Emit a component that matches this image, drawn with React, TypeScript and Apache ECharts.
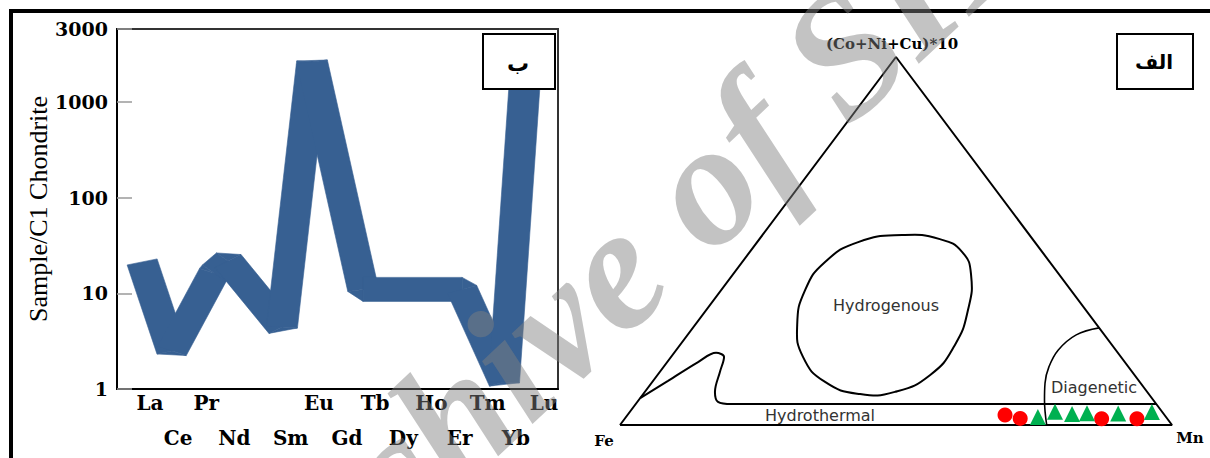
import React, { useEffect, useRef } from 'react';
import * as echarts from 'echarts';

// ---------- Left panel: chondrite-normalised REE pattern ----------
const reeLabels = ['La', 'Ce', 'Pr', 'Nd', '', 'Sm', 'Eu', 'Gd', 'Tb', 'Dy', 'Ho', 'Er', 'Tm', 'Yb', 'Lu'];
const yTickLabels = ['1', '10', '100', '1000', '3000'];
// band vertices: position along the REE axis (element index units) and Sample/C1 value
const bandElements = ['La', 'Ce', 'Pr', 'Nd', 'Sm', 'Eu', 'Gd', 'Er', 'Tm', 'Lu'];
const bandPos = [-0.28, 0.78, 2.27, 2.77, 4.69, 5.76, 7.57, 11.09, 12.58, 13.36];
const bandValue = [21.3, 2.5, 16.3, 21.8, 4.45, 2618, 11, 11, 1.18, 2500];

// ---------- Right panel: ternary Fe - Mn - (Co+Ni+Cu)*10 ----------
// compositions in % : [Fe, Mn, (Co+Ni+Cu)*10]
const redSamples = [
  [28.9, 68.4, 2.7], [26.6, 71.6, 1.8], [11.9, 86.4, 1.7], [5.5, 92.8, 1.7],
];
const greenSamples = [
  [23.2, 74.6, 2.2], [19.4, 77.0, 3.6], [16.6, 80.4, 3.0], [13.8, 83.0, 3.2], [8.2, 88.7, 3.1], [1.9, 94.6, 3.5],
];
const triangleOutline = [[100, 0, 0], [0, 100, 0], [0, 0, 100], [100, 0, 0]];
const hydrogenousField = [
  [23.1, 25.3, 51.6], [16.8, 32.7, 50.5], [14.5, 38.5, 47.0], [16.0, 43.2, 40.8], [21.3, 47.4, 31.3],
  [28.5, 49.8, 21.7], [37.0, 49.4, 13.6], [45.7, 45.3, 9.0], [52.3, 39.3, 8.4], [57.0, 31.3, 11.7],
  [57.6, 23.9, 18.5], [54.3, 18.5, 27.2], [48.1, 15.2, 36.7], [40.7, 15.0, 44.3], [32.0, 18.3, 49.7],
];
const hydrothermalField = [
  [92.7, 0, 7.3], [85.3, 2.7, 12.0], [77.3, 5.6, 17.1], [72.8, 7.6, 19.6], [71.9, 9.6, 18.5],
  [74.7, 10.9, 14.4], [78.3, 12.7, 9.0], [79.1, 14.6, 6.3], [76.9, 17.4, 5.7], [0, 94.3, 5.7],
];
const diageneticField = [
  [0, 73.6, 26.4], [5.1, 70.4, 24.5], [10.4, 69.2, 20.4], [14.4, 69.8, 15.8], [17.3, 71.3, 11.4],
  [19.7, 73.5, 6.8], [22.7, 77.3, 0],
];

const toXY = (c: number[]) => {
  const s = c[0] + c[1] + c[2];
  const mn = c[1] / s;
  const co = c[2] / s;
  return [mn + co / 2, co];
};

const BAND_COLOR = '#376092';
const HX = 15.5;
const HY = 12;

export default function App() {
  const ref = useRef<HTMLDivElement>(null);
  useEffect(() => {
    if (!ref.current) return;
    const chart = echarts.init(ref.current, undefined, { renderer: 'svg' });

    const serifBold = { fontFamily: 'DejaVu Serif', fontWeight: 'bold' as const, color: '#000' };

    const bandRender = (params: any, api: any) => {
      const i = params.dataIndex;
      if (i >= bandPos.length - 1) return null;
      const P = bandPos.map((p, k) => api.coord([p, bandValue[k]]));
      const rx = HX / HY;
      const off = (a: number[], b: number[]) => {
        const dx = (b[0] - a[0]) / rx;
        const dy = b[1] - a[1];
        const L = Math.hypot(dx, dy) || 1;
        return [(-dy / L) * HX, (dx / L) * HY];
      };
      const add = (a: number[], o: number[]) => [a[0] + o[0], a[1] + o[1]];
      const sub = (a: number[], o: number[]) => [a[0] - o[0], a[1] - o[1]];
      const st = { fill: BAND_COLOR, stroke: BAND_COLOR, lineWidth: 0.6 };
      const o = off(P[i], P[i + 1]);
      const children: any[] = [
        { type: 'polygon', shape: { points: [add(P[i], o), add(P[i + 1], o), sub(P[i + 1], o), sub(P[i], o)] }, style: st },
      ];
      if (i + 2 < P.length) {
        const o2 = off(P[i + 1], P[i + 2]);
        children.push(
          { type: 'polygon', shape: { points: [P[i + 1], add(P[i + 1], o), add(P[i + 1], o2)] }, style: st },
          { type: 'polygon', shape: { points: [P[i + 1], sub(P[i + 1], o), sub(P[i + 1], o2)] }, style: st },
        );
      }
      return { type: 'group', children };
    };

    const blobRender = (params: any, api: any) => {
      if (params.dataIndex !== 0) return null;
      const pts = hydrogenousField.map((c) => api.coord(toXY(c)));
      return {
        type: 'polygon',
        shape: { points: pts, smooth: 0.5 },
        style: { fill: 'none', stroke: '#000', lineWidth: 2 },
      };
    };

    const txt = (text: string, x: number, y: number, extra: any) => ({
      type: 'text',
      x,
      y,
      z: 20,
      silent: true,
      style: {
        text,
        align: 'center',
        verticalAlign: 'middle',
        textAlign: 'center',
        textVerticalAlign: 'middle',
        ...extra,
      },
    });

    const reeAxis = (row: number, margin: number) => ({
      type: 'value', gridIndex: 1, position: 'bottom', offset: 0, min: 0, max: 14, interval: 1,
      axisLine: { show: false }, axisTick: { show: false }, splitLine: { show: false },
      axisLabel: {
        ...serifBold, fontSize: 20, lineHeight: 20, margin,
        showMinLabel: true, showMaxLabel: true,
        formatter: (v: number) => {
          const i = Math.round(v);
          return i % 2 === row ? reeLabels[i] ?? '' : '';
        },
      },
    });

    chart.setOption({
      animation: false,
      backgroundColor: '#fff',
      grid: [
        { left: 117, top: 29, width: 441, height: 360, show: true, borderColor: '#333', borderWidth: 2, containLabel: false },
        { left: 150, top: 29, width: 394, height: 360, containLabel: false },
        { left: 620, top: 57, width: 552, height: 368, containLabel: false },
      ],
      xAxis: [
        {
          type: 'value', gridIndex: 0, min: 0, max: 1,
          axisLine: { show: true, lineStyle: { color: '#000', width: 2 } },
          axisTick: { show: false }, axisLabel: { show: false }, splitLine: { show: false },
        },
        reeAxis(0, 4),
        { type: 'value', gridIndex: 2, min: 0, max: 1, show: false },
        reeAxis(1, 39),
      ],
      yAxis: [
        {
          type: 'log', gridIndex: 0, logBase: 10, min: 1, max: 5800,
          axisLine: { show: true, lineStyle: { color: '#000', width: 2 } },
          axisTick: { show: true, inside: true, length: 15, lineStyle: { color: '#9a9a9a', width: 1.5 } },
          axisLabel: {
            ...serifBold, fontSize: 19, margin: 9, showMinLabel: true, showMaxLabel: true,
            formatter: (_v: number, idx: number) => yTickLabels[idx] ?? '',
          },
          splitLine: { show: false },
          name: 'Sample/C1 Chondrite', nameLocation: 'middle', nameGap: 62, nameRotate: 90,
          nameTextStyle: { fontFamily: 'Liberation Serif', fontSize: 26, color: '#000' },
        },
        { type: 'log', gridIndex: 1, logBase: 10, min: 1, max: 5800, show: false },
        { type: 'value', gridIndex: 2, min: 0, max: 1, show: false },
      ],
      series: [
        {
          type: 'custom', name: 'REE band', xAxisIndex: 1, yAxisIndex: 1, silent: true,
          data: bandPos.map((p, i) => ({ name: bandElements[i], value: [p, bandValue[i]] })),
          encode: { x: 0, y: 1 },
          renderItem: bandRender,
        },
        {
          type: 'line', xAxisIndex: 2, yAxisIndex: 2, silent: true, symbol: 'none',
          data: triangleOutline.map(toXY),
          lineStyle: { color: '#000', width: 2 },
        },
        {
          type: 'custom', xAxisIndex: 2, yAxisIndex: 2, silent: true,
          data: hydrogenousField.map(toXY),
          encode: { x: 0, y: 1 },
          renderItem: blobRender,
        },
        {
          type: 'line', xAxisIndex: 2, yAxisIndex: 2, silent: true, symbol: 'none', smooth: 0.35,
          data: hydrothermalField.map(toXY),
          lineStyle: { color: '#000', width: 2 },
        },
        {
          type: 'line', xAxisIndex: 2, yAxisIndex: 2, silent: true, symbol: 'none', smooth: 0.4,
          data: diageneticField.map(toXY),
          lineStyle: { color: '#000', width: 1.6 },
        },
        {
          type: 'scatter', xAxisIndex: 2, yAxisIndex: 2, silent: true, symbol: 'circle', symbolSize: 15,
          data: redSamples.map(toXY),
          itemStyle: { color: '#FF0000', opacity: 1 },
          z: 5,
        },
        {
          type: 'scatter', xAxisIndex: 2, yAxisIndex: 2, silent: true, symbol: 'triangle', symbolSize: [16, 16],
          data: greenSamples.map(toXY),
          itemStyle: { color: '#00B050', opacity: 1 },
          z: 6,
        },
      ],
      graphic: [
        { type: 'line', z: 30, silent: true, shape: { x1: 9, y1: 11, x2: 1210, y2: 11 }, style: { stroke: '#000', lineWidth: 4 } },
        { type: 'line', z: 30, silent: true, shape: { x1: 11, y1: 9, x2: 11, y2: 458 }, style: { stroke: '#000', lineWidth: 4 } },
        { type: 'rect', z: 15, silent: true, shape: { x: 483, y: 34, width: 72, height: 55 }, style: { fill: '#fff', stroke: '#000', lineWidth: 2 } },
        txt('ب', 518, 63, { fontFamily: 'DejaVu Sans', fontWeight: 'bold', fontSize: 22, fill: '#000' }),
        { type: 'rect', z: 15, silent: true, shape: { x: 1117, y: 34, width: 76, height: 55 }, style: { fill: '#fff', stroke: '#000', lineWidth: 2 } },
        txt('الف', 1154, 62, { fontFamily: 'DejaVu Sans', fontWeight: 'bold', fontSize: 20, fill: '#000' }),
        txt('(Co+Ni+Cu)*10', 892, 44, { fontFamily: 'DejaVu Serif', fontWeight: 'bold', fontSize: 15, fill: '#000' }),
        txt('Fe', 604, 441, { fontFamily: 'DejaVu Serif', fontWeight: 'bold', fontSize: 15, fill: '#000' }),
        txt('Mn', 1190, 438, { fontFamily: 'DejaVu Serif', fontWeight: 'bold', fontSize: 15, fill: '#000' }),
        txt('Hydrogenous', 886, 305, { fontFamily: 'DejaVu Sans', fontSize: 16, fill: '#333' }),
        txt('Hydrothermal', 820, 415, { fontFamily: 'DejaVu Sans', fontSize: 16, fill: '#333' }),
        txt('Diagenetic', 1094, 387, { fontFamily: 'DejaVu Sans', fontSize: 16, fill: '#333' }),
        {
          type: 'text', z: 50, silent: true, x: 624, y: 258, rotation: (43 * Math.PI) / 180,
          style: {
            text: 'Archive of SID',
            align: 'center', verticalAlign: 'middle', textAlign: 'center', textVerticalAlign: 'middle',
            fontFamily: 'Liberation Serif', fontStyle: 'italic', fontWeight: 'bold', fontSize: 175,
            fill: 'rgba(128,128,128,0.47)',
          },
        },
      ],
    });
    return () => chart.dispose();
  }, []);
  return <div ref={ref} style={{ position: 'absolute', left: 0, top: 0, width: 1210, height: 458 }} />;
}
